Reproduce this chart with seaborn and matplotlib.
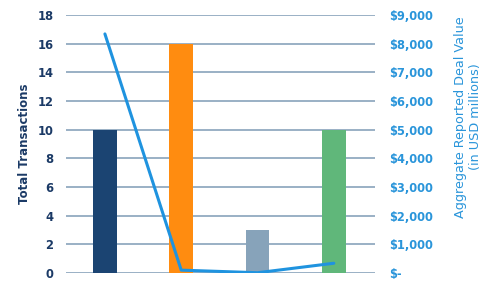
import matplotlib
matplotlib.use("Agg")
import matplotlib.pyplot as plt
import seaborn as sns
import pandas as pd
from matplotlib.ticker import FuncFormatter, MultipleLocator

categories = ["Cat A", "Cat B", "Cat C", "Cat D"]
transactions = [10, 16, 3, 10]
deal_values = [8340, 100, 10, 340]
bar_colors = ["#1B4472", "#FF8C10", "#87A3BA", "#60B77A"]

df = pd.DataFrame({"category": categories, "transactions": transactions, "value": deal_values})

sns.set_theme(style="white")
plt.rcParams["font.family"] = ["DejaVu Sans"]

fig = plt.figure(figsize=(4.93, 2.88), dpi=100)
ax = fig.add_axes([66/493, 15/288, (375-66)/493, (273-15)/288])

sns.barplot(data=df, x="category", y="transactions", hue="category", order=categories,
            hue_order=categories, palette=bar_colors, width=0.31, legend=False,
            saturation=1, linewidth=0, edgecolor="none", ax=ax, zorder=3)
ax.set_ylim(0, 18)
ax.yaxis.set_major_locator(MultipleLocator(2))
ax.set_xlim(-0.51, 3.54)
ax.grid(axis="y", color="#7F9BB5", linewidth=1.1, zorder=0)
ax.set_axisbelow(True)
for s in ax.spines.values():
    s.set_visible(False)
ax.set_xticks(range(len(categories)))
ax.set_xticklabels([])
ax.set_xlabel("")
ax.tick_params(axis="y", length=0, pad=9, labelsize=8.3, labelcolor="#1B3A66")
ax.tick_params(axis="x", length=0)
for lab in ax.get_yticklabels():
    lab.set_fontweight("bold")
ax.set_ylabel("Total Transactions", fontsize=8.5, fontweight="bold", color="#1B3A66")
ax.yaxis.set_label_coords(-0.113, 0.5)

ax2 = ax.twinx()
sns.pointplot(data=df, x="category", y="value", order=categories, color="#1F93DF",
              markers="", linewidth=2.2, ax=ax2, zorder=5)
ax2.set_ylim(0, 9000)
ax2.set_xlim(-0.51, 3.54)
ax2.yaxis.set_major_locator(MultipleLocator(1000))
ax2.yaxis.set_major_formatter(FuncFormatter(lambda v, p: "$-" if v == 0 else f"${v:,.0f}"))
for s in ax2.spines.values():
    s.set_visible(False)
ax2.tick_params(axis="y", length=0, pad=10, labelsize=8.3, labelcolor="#2A95DA")
for lab in ax2.get_yticklabels():
    lab.set_fontweight("bold")
ax2.set_ylabel("Aggregate Reported Deal Value\n(in USD millions)", fontsize=9.2,
               color="#2A95DA")
ax2.yaxis.set_label_coords(1.255, 0.605)
ax2.set_xlabel("")
ax2.set_xticklabels([])
ax2.grid(False)

fig.savefig("out.png", dpi=100)
